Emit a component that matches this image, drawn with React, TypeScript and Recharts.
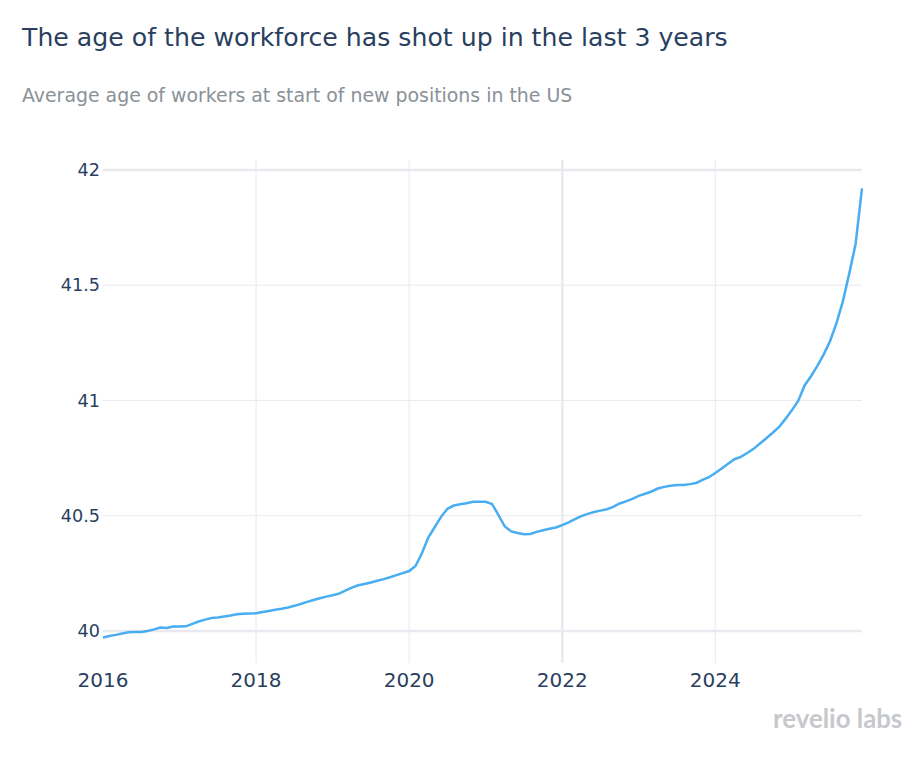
import React from 'react';
import { LineChart, Line, XAxis, YAxis, ReferenceLine } from 'recharts';

// monthly average age, Jan 2016 .. Dec 2025
const START_YEAR = 2016;
const avgAge = [
  39.972, 39.978, 39.983, 39.989, 39.994, 39.995, 39.996, 40.0, 40.007, 40.015, 40.013, 40.019,
  40.019, 40.02, 40.031, 40.041, 40.049, 40.056, 40.058, 40.063, 40.067, 40.072, 40.075, 40.076,
  40.077, 40.082, 40.087, 40.092, 40.096, 40.102, 40.109, 40.117, 40.126, 40.134, 40.142, 40.149,
  40.155, 40.162, 40.175, 40.188, 40.198, 40.204, 40.21, 40.218, 40.225, 40.233, 40.242, 40.251,
  40.26, 40.282, 40.337, 40.405, 40.45, 40.495, 40.53, 40.544, 40.55, 40.554, 40.56, 40.56,
  40.56, 40.551, 40.503, 40.453, 40.432, 40.425, 40.42, 40.421, 40.43, 40.437, 40.443, 40.449,
  40.459, 40.471, 40.485, 40.498, 40.508, 40.516, 40.522, 40.528, 40.538, 40.553, 40.562, 40.573,
  40.586, 40.595, 40.605, 40.618, 40.625, 40.63, 40.633, 40.633, 40.637, 40.642, 40.655, 40.667,
  40.685, 40.705, 40.725, 40.745, 40.755, 40.772, 40.79, 40.813, 40.836, 40.86, 40.885, 40.92,
  40.957, 40.998, 41.065, 41.105, 41.15, 41.2, 41.258, 41.335, 41.43, 41.55, 41.68, 41.92,
];
const xTicks = [2016, 2018, 2020, 2022, 2024];
const yTicks = [40, 40.5, 41, 41.5, 42];

const data = avgAge.map((v, i) => ({ t: START_YEAR + i / 12, age: v }));

const GRID = '#e9e9ef';
const INK = '#2a3f5f';

export default function App() {
  return (
    <div style={{ position: 'relative', width: 900, height: 746, fontFamily: 'DejaVu Sans', background: '#fff' }}>
      <div style={{ position: 'absolute', left: 14, top: 15, fontSize: 25.2, color: INK, whiteSpace: 'nowrap' }}>
        The age of the workforce has shot up in the last 3 years
      </div>
      <div style={{ position: 'absolute', left: 14, top: 76, fontSize: 18.9, color: '#8a9197', whiteSpace: 'nowrap' }}>
        Average age of workers at start of new positions in the US
      </div>
      <LineChart
        width={900}
        height={746}
        data={data}
        margin={{ top: 152, right: 46, bottom: 61, left: 0 }}
      >
        {xTicks.slice(1).map((x) => (
          <ReferenceLine key={'x' + x} x={x} stroke={GRID} strokeWidth={x === 2022 ? 2.5 : 1} />
        ))}
        {yTicks.map((y) => (
          <ReferenceLine key={'y' + y} y={y} stroke={GRID} strokeWidth={y === 40 || y === 42 ? 2.5 : 1} />
        ))}
        <XAxis
          dataKey="t"
          type="number"
          domain={[2016, 2016 + 119 / 12]}
          ticks={xTicks}
          axisLine={false}
          tickLine={false}
          tickSize={0}
          tickMargin={10}
          height={30}
          tick={{ fontSize: 20, fill: INK, fontFamily: 'DejaVu Sans' }}
        />
        <YAxis
          type="number"
          domain={[39.861, 42.043]}
          allowDataOverflow
          ticks={yTicks}
          axisLine={false}
          tickLine={false}
          tickSize={0}
          tickMargin={3}
          width={95}
          tick={{ fontSize: 17.6, fill: INK, fontFamily: 'DejaVu Sans' }}
        />
        <Line
          type="linear"
          dataKey="age"
          stroke="#48adf1"
          strokeWidth={2.5}
          dot={false}
          isAnimationActive={false}
        />
      </LineChart>
      <div
        style={{
          position: 'absolute',
          left: 765,
          top: 695,
          fontSize: 25.8,
          fontWeight: 700,
          fontFamily: 'Lato',
          color: '#c6c8cb',
          whiteSpace: 'nowrap',
        }}
      >
        revelio labs
      </div>
    </div>
  );
}
